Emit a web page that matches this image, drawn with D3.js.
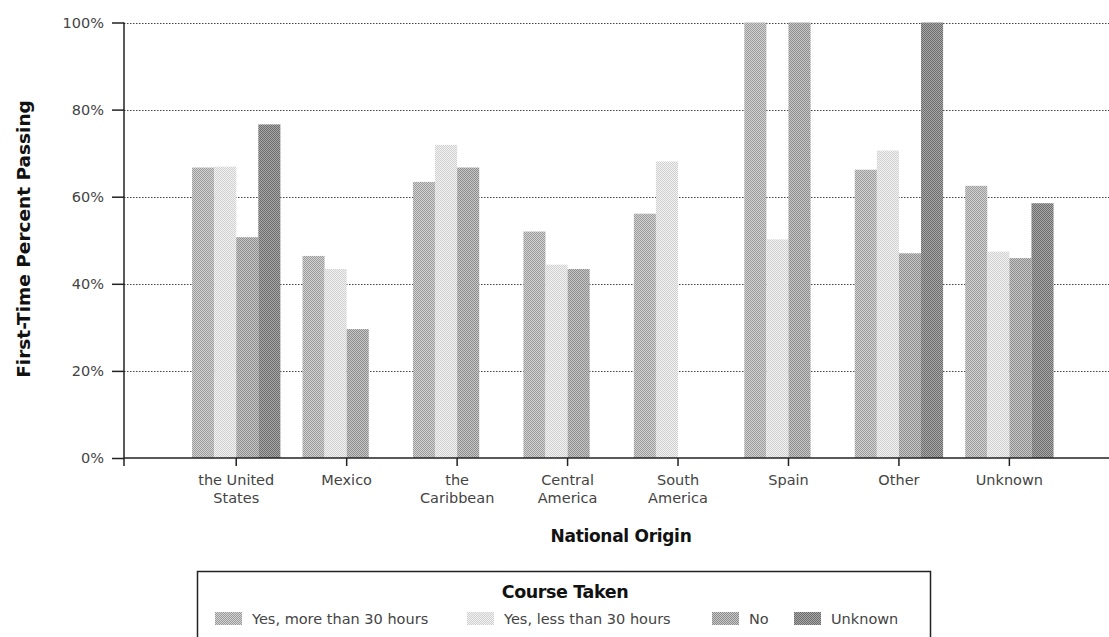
<!DOCTYPE html>
<html>
<head>
<meta charset="utf-8">
<script src="https://cdn.jsdelivr.net/npm/d3@7"></script>
<style>
  html, body { margin: 0; padding: 0; background: #ffffff; }
  svg { display: block; }
</style>
</head>
<body>
<div id="chart"></div>
<script>
// ---- data ----
const categories = ["the United\nStates", "Mexico", "the\nCaribbean", "Central\nAmerica", "South\nAmerica", "Spain", "Other", "Unknown"];
const seriesNames = ["Yes, more than 30 hours", "Yes, less than 30 hours", "No", "Unknown"];
const yesMore30 = [66.7, 46.4, 63.4, 52.0, 56.1, 100, 66.2, 62.5];
const yesLess30 = [66.9, 43.4, 71.9, 44.4, 68.1, 50.2, 70.6, 47.4];
const no        = [50.7, 29.6, 66.7, 43.4, null, 100, 47.0, 45.9];
const unknown   = [76.6, null, null, null, null, null, 100, 58.5];
const yTicks = [0, 20, 40, 60, 80, 100];
const yTickLabels = ["0%", "20%", "40%", "60%", "80%", "100%"];

const seriesValues = [yesMore30, yesLess30, no, unknown];

// ---- layout ----
const W = 1109, H = 637;
const svg = d3.select("#chart").append("svg").attr("width", W).attr("height", H);

// dither-like patterns
const patColors = [
  ["#9c9c9c", "#d2d2d2"],
  ["#d0d0d0", "#f2f2f2"],
  ["#8e8e8e", "#c6c6c6"],
  ["#6c6c6c", "#a8a8a8"]
];
const defs = svg.append("defs");
patColors.forEach((c, i) => {
  const p = defs.append("pattern").attr("id", "pat" + i)
    .attr("patternUnits", "userSpaceOnUse").attr("width", 2).attr("height", 2);
  p.append("rect").attr("width", 2).attr("height", 2).attr("fill", c[1]);
  p.append("rect").attr("width", 1).attr("height", 1).attr("fill", c[0]);
  p.append("rect").attr("x", 1).attr("y", 1).attr("width", 1).attr("height", 1).attr("fill", c[0]);
});

const axisX0 = 124, axisX1 = 1109;
const y = d3.scaleLinear().domain([0, 100]).range([458, 22.5]);
const x = d3.scaleBand().domain(categories).range([181, 1064.6]).paddingInner(0.2).paddingOuter(0.1);
const xs = d3.scaleBand().domain(d3.range(seriesNames.length)).range([0, x.bandwidth()]).padding(0);

const font = "'DejaVu Sans', Verdana, sans-serif";

// gridlines
svg.append("g").selectAll("line").data(yTicks.filter(d => d > 0)).join("line")
  .attr("x1", axisX0).attr("x2", axisX1)
  .attr("y1", d => Math.round(y(d)) + 0.5).attr("y2", d => Math.round(y(d)) + 0.5)
  .attr("stroke", "#444").attr("stroke-width", 1).attr("stroke-dasharray", "1.5,1.5");

// bars
const bars = [];
seriesValues.forEach((vals, si) => {
  vals.forEach((v, ci) => { if (v != null) bars.push({ si, ci, v }); });
});
svg.append("g").selectAll("rect").data(bars).join("rect")
  .attr("x", d => x(categories[d.ci]) + xs(d.si))
  .attr("width", xs.bandwidth())
  .attr("y", d => y(d.v))
  .attr("height", d => y(0) - y(d.v))
  .attr("fill", d => "url(#pat" + d.si + ")");

// y axis
const yAxis = d3.axisLeft(y).tickValues(yTicks).tickFormat((d, i) => yTickLabels[i]).tickSize(12).tickPadding(8);
const gy = svg.append("g").attr("transform", `translate(${axisX0},0)`).call(yAxis);
gy.select(".domain").remove();
gy.selectAll(".tick line").attr("stroke", "#222").attr("stroke-width", 1.5);
gy.selectAll(".tick text").attr("font-family", font).attr("font-size", "14.5px").attr("fill", "#444");
svg.append("line").attr("x1", axisX0).attr("x2", axisX0).attr("y1", y(100)).attr("y2", y(0) + 8)
  .attr("stroke", "#222").attr("stroke-width", 1.5);

// x axis
const xAxis = d3.axisBottom(x).tickSize(8).tickSizeOuter(0).tickFormat(() => "");
const gx = svg.append("g").attr("transform", `translate(0,${y(0)})`).call(xAxis);
gx.select(".domain").remove();
gx.selectAll(".tick line").attr("stroke", "#222").attr("stroke-width", 1.5);
gx.selectAll(".tick").each(function(d) {
  const lines = d.split("\n");
  const t = d3.select(this).append("text")
    .attr("font-family", font).attr("font-size", "14.5px").attr("fill", "#444")
    .attr("text-anchor", "middle");
  lines.forEach((ln, i) => {
    t.append("tspan").attr("x", 0).attr("y", 27 + i * 17.5).text(ln);
  });
});
svg.append("line").attr("x1", axisX0).attr("x2", axisX1).attr("y1", y(0)).attr("y2", y(0))
  .attr("stroke", "#222").attr("stroke-width", 1.5);

// axis titles
svg.append("text").attr("x", 621).attr("y", 542).attr("text-anchor", "middle")
  .attr("font-family", font).attr("font-weight", "bold").attr("font-size", "17px").attr("fill", "#111")
  .attr("letter-spacing", "-0.3px")
  .text("National Origin");
svg.append("text").attr("transform", "translate(30,239) rotate(-90)").attr("text-anchor", "middle")
  .attr("font-family", font).attr("font-weight", "bold").attr("font-size", "18.5px").attr("fill", "#111")
  .text("First-Time Percent Passing");

// legend
const lg = svg.append("g");
lg.append("rect").attr("x", 197.5).attr("y", 571.5).attr("width", 733).attr("height", 80)
  .attr("fill", "none").attr("stroke", "#222").attr("stroke-width", 1.5);
lg.append("text").attr("x", 565).attr("y", 598).attr("text-anchor", "middle")
  .attr("font-family", font).attr("font-weight", "bold").attr("font-size", "17.5px").attr("fill", "#111")
  .attr("letter-spacing", "-0.4px")
  .text("Course Taken");
const legendX = [215, 467, 712, 794];
const items = lg.selectAll("g.item").data(seriesNames).join("g").attr("class", "item")
  .attr("transform", (d, i) => `translate(${legendX[i]},612)`);
items.append("rect").attr("width", 27).attr("height", 13).attr("fill", (d, i) => "url(#pat" + i + ")");
items.append("text").attr("x", 37).attr("y", 11.5)
  .attr("font-family", font).attr("font-size", "14.5px").attr("fill", "#444")
  .text(d => d);
</script>
</body>
</html>
